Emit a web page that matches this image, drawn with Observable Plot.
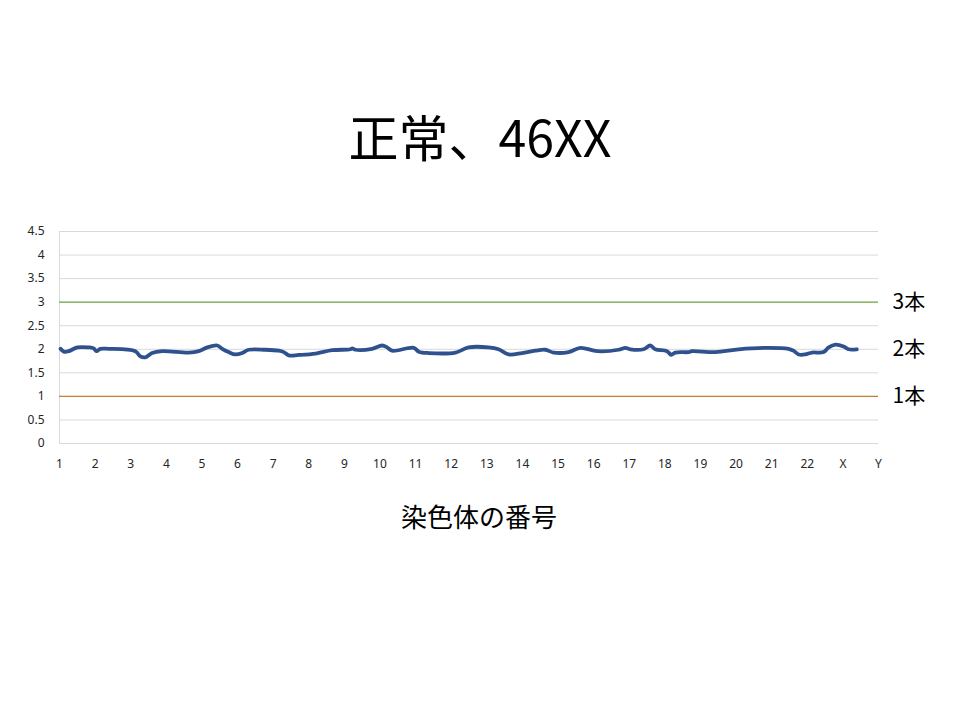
<!DOCTYPE html>
<html>
<head>
<meta charset="utf-8">
<script src="https://cdn.jsdelivr.net/npm/d3@7"></script>
<script src="https://cdn.jsdelivr.net/npm/@observablehq/plot@0.6"></script>
<style>
  html, body { margin: 0; padding: 0; background: #fff; }
  #wrap { position: relative; width: 960px; height: 720px; font-family: "Noto Sans CJK JP", "Noto Sans", sans-serif; }
  #title { position: absolute; top: 105px; left: 0; width: 960px; text-align: center; font-size: 50px; line-height: 60px; color: #000; }
  #chart { position: absolute; top: 200px; left: 0; }
  #xlabel { position: absolute; top: 499px; left: 0; width: 958px; text-align: center; font-size: 26px; line-height: 34px; color: #000; }
</style>
</head>
<body>
<div id="wrap">
  <div id="title">正常、46XX</div>
  <div id="chart"></div>
  <div id="xlabel">染色体の番号</div>
</div>
<script>
// Chromosome tick labels (positions 0..23)
const chromLabels = ["1","2","3","4","5","6","7","8","9","10","11","12","13","14","15","16","17","18","19","20","21","22","X","Y"];
// Copy-number trace: position along genome (in chromosome units) and value
const tracePos = [0.03,0.12,0.26,0.50,0.82,0.96,1.04,1.15,1.38,2.13,2.27,2.41,2.60,2.88,3.63,3.91,4.15,4.43,4.57,4.75,4.94,5.13,5.31,5.78,6.16,6.30,6.44,6.72,7.19,7.66,8.17,8.22,8.31,8.78,9.06,9.20,9.34,9.95,10.09,10.37,11.12,11.49,12.05,12.33,12.61,12.99,13.36,13.64,13.88,14.30,14.63,15.10,15.70,15.89,16.03,16.40,16.59,16.73,17.06,17.18,17.29,17.67,17.76,18.42,19.07,19.82,20.47,20.61,20.76,20.94,21.13,21.46,21.60,21.79,22.02,22.16,22.39];
const traceVal = [2.01,1.95,1.96,2.04,2.04,2.02,1.96,2.01,2.01,1.96,1.85,1.83,1.92,1.96,1.93,1.96,2.04,2.08,2.01,1.94,1.89,1.92,1.99,1.99,1.97,1.94,1.87,1.88,1.91,1.98,2.00,2.02,1.99,2.01,2.08,2.04,1.97,2.03,1.95,1.92,1.93,2.04,2.04,2.00,1.89,1.92,1.97,1.99,1.93,1.94,2.03,1.96,1.99,2.03,2.00,2.00,2.08,2.00,1.96,1.88,1.93,1.94,1.96,1.94,2.00,2.03,2.01,1.97,1.89,1.89,1.93,1.94,2.04,2.10,2.06,2.00,2.00];
// Reference lines
const refValues = [3, 2, 1];
const refLabels = ["3本", "2本", "1本"];
const refColors = ["#70ad47", null, "#c5803f"];
const yTicks = [0,0.5,1,1.5,2,2.5,3,3.5,4,4.5];

const trace = tracePos.map((p, i) => ({x: p, y: traceVal[i]}));
const refs = refValues.map((v, i) => ({y: v, label: refLabels[i], color: refColors[i]}));

const chart = Plot.plot({
  width: 960,
  height: 283,
  marginTop: 31,
  marginBottom: 40,
  marginLeft: 59,
  marginRight: 82,
  style: {fontFamily: "'Noto Sans', 'Noto Sans CJK JP', sans-serif", fontSize: "12px", color: "#262626", background: "#fff"},
  x: {domain: [0, 23], axis: null},
  y: {domain: [0, 4.5], axis: null},
  marks: [
    Plot.ruleY(yTicks, {stroke: "#d9d9d9", strokeWidth: 1}),
    Plot.ruleX([0], {stroke: "#d9d9d9", strokeWidth: 1}),
    Plot.ruleY(refs.filter(d => d.color), {y: "y", stroke: "color", strokeWidth: 1.2}),
    Plot.line(trace, {x: "x", y: "y", stroke: "#2f528f", strokeWidth: 3.8, curve: "catmull-rom", strokeLinejoin: "round", strokeLinecap: "round"}),
    Plot.axisY(yTicks, {label: null, tickSize: 0, tickPadding: 15, fontSize: 12, fill: "#262626", tickFormat: d => String(d)}),
    Plot.axisX(d3.range(24), {label: null, tickSize: 0, tickPadding: 16, fontSize: 12, fill: "#262626", tickFormat: i => chromLabels[i]}),
    Plot.text(refs, {x: 23, y: "y", text: "label", textAnchor: "start", dx: 14, fontSize: 21, fill: "#000", fontFamily: "'Noto Sans CJK JP', sans-serif"})
  ]
});
document.getElementById("chart").appendChild(chart);
</script>
</body>
</html>
